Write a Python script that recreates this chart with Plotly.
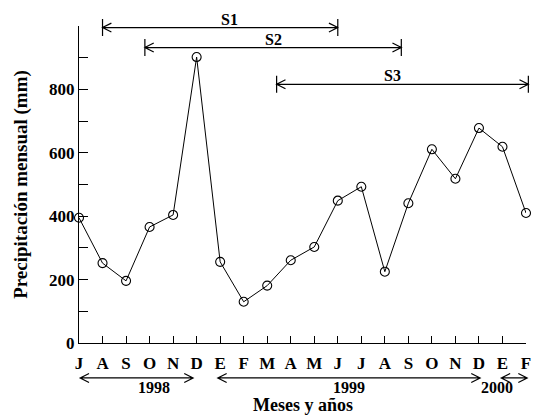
import plotly.graph_objects as go

months = ['J', 'A', 'S', 'O', 'N', 'D', 'E', 'F', 'M', 'A', 'M', 'J', 'J', 'A', 'S', 'O', 'N', 'D', 'E', 'F']
precip = [395, 252, 196, 366, 404, 902, 256, 130, 181, 261, 303, 449, 493, 225, 441, 611, 518, 678, 619, 410]

# periods (start, end in month index, y level in mm, label)
span_labels = ['S1', 'S2', 'S3']
span_start = [1.0, 2.8, 8.4]
span_end = [11.0, 13.7, 19.1]
span_level = [995, 932, 816]

# year ranges along the month axis
year_labels = ['1998', '1999', '2000']
year_start = [0.05, 5.9, 17.95]
year_end = [4.85, 17.05, 19.05]

yticks = list(range(0, 1001, 100))
yticktext = [str(v) if v % 200 == 0 and v < 1000 else '' for v in yticks]

FONT = 'Liberation Serif'
# page body has an 8px margin: the figure starts at (8, 8) of the window
W, H = 535, 408
ML, MR, MT, MB = 69, 12, 17.5, 73
PW = W - ML - MR
PH = H - MT - MB
XMIN, XMAX = 0, 19
YMIN, YMAX = 0, 1000


def px(v):
    return (v - XMIN) / (XMAX - XMIN)


def py(v):
    return (v - YMIN) / (YMAX - YMIN)


def dxp(pixels):
    return pixels / PW


def dyp(pixels):
    return pixels / PH


fig = go.Figure()
fig.add_trace(go.Scatter(
    x=list(range(len(precip))), y=precip, mode='lines+markers',
    line=dict(color='black', width=1),
    marker=dict(symbol='circle-open', size=9, color='black', line=dict(width=1.1)),
    cliponaxis=False, showlegend=False))

shapes = []
annotations = []
line_style = dict(color='black', width=1.2)


def arrowhead(x, y, direction):
    # open arrowhead tip at (x, y), pointing left (direction=-1) or right (+1)
    L, Hh = 9, 4.5
    bx = x - direction * dxp(L)
    return f'M {bx},{y + dyp(Hh)} L {x},{y} L {bx},{y - dyp(Hh)}'


for lab, s, e, lv in zip(span_labels, span_start, span_end, span_level):
    x0, x1, y = px(s), px(e), py(lv)
    path = f'M {x0},{y} L {x1},{y} '
    path += f'M {x0},{y - dyp(8.5)} L {x0},{y + dyp(8.5)} '
    path += f'M {x1},{y - dyp(8.5)} L {x1},{y + dyp(8.5)} '
    path += arrowhead(x0, y, -1) + ' ' + arrowhead(x1, y, 1)
    shapes.append(dict(type='path', xref='paper', yref='paper', path=path, line=line_style))
    annotations.append(dict(x=(x0 + x1) / 2, y=y + dyp(8.5), xref='paper', yref='paper',
                            text=f'<b>{lab}</b>', showarrow=False, yanchor='middle',
                            borderpad=0,
                            font=dict(family=FONT, size=16, color='black')))

for lab, s, e in zip(year_labels, year_start, year_end):
    x0, x1 = px(s), px(e)
    y = -dyp(35)
    path = f'M {x0},{y} L {x1},{y} ' + arrowhead(x0, y, -1) + ' ' + arrowhead(x1, y, 1)
    shapes.append(dict(type='path', xref='paper', yref='paper', path=path, line=line_style))
    annotations.append(dict(x=(x0 + x1) / 2, y=-dyp(44.5), xref='paper', yref='paper',
                            text=f'<b>{lab}</b>', showarrow=False, yanchor='middle',
                            borderpad=0,
                            font=dict(family=FONT, size=16, color='black')))

annotations.append(dict(x=0.5, y=-MB / PH, xref='paper', yref='paper',
                        text='<b>Meses y años</b>', showarrow=False, yanchor='bottom',
                        borderpad=0,
                        font=dict(family=FONT, size=18, color='black')))

fig.update_layout(
    width=W, height=H,
    margin=dict(l=ML, r=MR, t=MT, b=MB, pad=0),
    paper_bgcolor='white', plot_bgcolor='white',
    shapes=shapes, annotations=annotations,
    xaxis=dict(range=[XMIN, XMAX], tickvals=list(range(len(months))), ticktext=months,
               ticks='inside', ticklen=7, tickcolor='black', tickwidth=1,
               ticklabelstandoff=4,
               showline=True, linecolor='black', linewidth=1.2, showgrid=False, zeroline=False,
               tickfont=dict(family=FONT, size=17, color='black', weight='bold')),
    yaxis=dict(range=[YMIN, YMAX], tickvals=yticks, ticktext=yticktext,
               ticks='inside', ticklen=9, tickcolor='black', tickwidth=1,
               showline=True, linecolor='black', linewidth=1.2, showgrid=False, zeroline=False,
               tickfont=dict(family=FONT, size=17, color='black', weight='bold'),
               title=dict(text='<b>Precipitación mensual (mm)</b>', standoff=16,
                          font=dict(family=FONT, size=19, color='black'))),
)

fig.write_html('out.html')
